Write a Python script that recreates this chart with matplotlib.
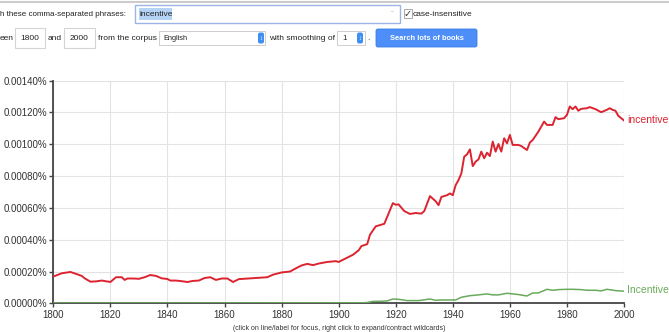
import matplotlib
matplotlib.use("Agg")
import matplotlib.pyplot as plt
from matplotlib.patches import Rectangle, FancyBboxPatch
from matplotlib.ticker import FuncFormatter

plt.rcParams['font.family'] = ['Liberation Sans', 'DejaVu Sans']

# ngram frequencies, in percent
red_years = [1800, 1803, 1806, 1808, 1810, 1811, 1813, 1815, 1817, 1820,
             1822, 1824, 1825, 1826, 1828, 1830, 1832, 1834, 1836, 1838,
             1840, 1841, 1843, 1845, 1847, 1849, 1851, 1853, 1855, 1857,
             1859, 1861, 1863, 1865, 1870, 1875, 1877, 1880, 1883, 1885,
             1887, 1889, 1891, 1893, 1896, 1899, 1900, 1902, 1905, 1907,
             1908, 1910, 1911, 1913, 1916, 1919, 1920, 1921, 1923, 1925,
             1927, 1929, 1930, 1932, 1934, 1935, 1936, 1938, 1939, 1940,
             1941, 1942, 1943, 1944, 1945, 1946, 1947, 1948, 1949, 1950,
             1951, 1952, 1953, 1954, 1955, 1956, 1957, 1958, 1959, 1960,
             1961, 1963, 1964, 1966, 1967, 1968, 1970, 1972, 1973, 1975,
             1976, 1977, 1979, 1980, 1981, 1982, 1983, 1984, 1985, 1987,
             1988, 1990, 1992, 1994, 1995, 1996, 1997, 1998, 2000]
red_vals = [0.000168, 0.000189, 0.000197, 0.000185, 0.000172, 0.000157, 0.000136, 0.000138, 0.000143, 0.000134,
            0.000164, 0.000164, 0.000147, 0.000156, 0.000156, 0.000154, 0.000164, 0.000178, 0.000172, 0.000157,
            0.000153, 0.000143, 0.000143, 0.000139, 0.000134, 0.000141, 0.000143, 0.000159, 0.000164, 0.000147,
            0.000156, 0.000156, 0.000134, 0.000152, 0.000158, 0.000164, 0.000180, 0.000194, 0.000200, 0.000220,
            0.000238, 0.000248, 0.000240, 0.000250, 0.000260, 0.000265, 0.000260, 0.000278, 0.000305, 0.000333,
            0.000360, 0.000372, 0.000432, 0.000484, 0.000500, 0.000630, 0.000620, 0.000622, 0.000580, 0.000562,
            0.000568, 0.000564, 0.000580, 0.000674, 0.000642, 0.000617, 0.000669, 0.000680, 0.000691, 0.000680,
            0.000743, 0.000775, 0.000817, 0.000922, 0.000937, 0.000968, 0.000863, 0.000891, 0.000905, 0.000954,
            0.000912, 0.000947, 0.000926, 0.001017, 0.000954, 0.001002, 0.000954, 0.001038, 0.001006, 0.001059,
            0.000996, 0.000996, 0.000989, 0.000964, 0.001011, 0.001027, 0.001080, 0.001143, 0.001122, 0.001122,
            0.001171, 0.001158, 0.001164, 0.001185, 0.001238, 0.001221, 0.001238, 0.001211, 0.001223, 0.001227,
            0.001234, 0.001221, 0.001202, 0.001217, 0.001227, 0.001217, 0.001211, 0.001179, 0.001150]

green_years = [1800, 1850, 1900, 1908, 1910, 1912, 1915, 1917, 1919, 1921,
               1924, 1928, 1932, 1934, 1936, 1938, 1941, 1943, 1946, 1949,
               1952, 1954, 1956, 1959, 1961, 1963, 1966, 1968, 1970, 1973,
               1975, 1977, 1980, 1982, 1985, 1987, 1990, 1992, 1994, 1997, 2000]
green_vals = [0.000002, 0.000002, 0.000003, 0.000003, 0.000005, 0.000012, 0.000013, 0.000015, 0.000027, 0.000025,
              0.000017, 0.000017, 0.000027, 0.000019, 0.000021, 0.000021, 0.000021, 0.000038, 0.000048, 0.000053,
              0.000059, 0.000053, 0.000053, 0.000063, 0.000059, 0.000055, 0.000046, 0.000065, 0.000065, 0.000088,
              0.000082, 0.000086, 0.000088, 0.000088, 0.000086, 0.000082, 0.000082, 0.000078, 0.000088, 0.000080, 0.000076]

red_label = "incentive"
green_label = "Incentive"
RED = "#dc2430"
GREEN = "#6aaa5c"
UI = 6.0  # font size of the form text

fig = plt.figure(figsize=(6.69, 3.32), dpi=100)

# --- chart ---
ax = fig.add_axes([53.3 / 669, 1 - 303.3 / 332, (624 - 53.3) / 669, (303.3 - 80.7) / 332])
ax.plot(green_years, green_vals, color=GREEN, lw=1.1, zorder=3)
ax.plot(red_years, red_vals, color=RED, lw=1.4, zorder=4)
ax.set_xlim(1800, 2000)
ax.set_ylim(0, 0.0014)
ax.set_xticks(range(1800, 2001, 20))
ax.set_yticks([i * 0.0002 for i in range(8)])
ax.yaxis.set_major_formatter(FuncFormatter(lambda v, p: "%.5f%%" % v))
ax.grid(True, color="#e3e3e3", lw=0.8)
ax.set_axisbelow(True)
for s in ["top", "right"]:
    ax.spines[s].set_visible(False)
for s in ["left", "bottom"]:
    ax.spines[s].set_color("#444444")
    ax.spines[s].set_linewidth(1.3)
ax.tick_params(axis="both", colors="#444444", labelcolor="#333333", labelsize=7,
               length=3, width=1, pad=2)
ax.tick_params(axis="y", pad=1)
ax.text(2001, red_vals[-1], red_label, color=RED, fontsize=7.5, va="center", ha="left", clip_on=False)
ax.text(2001, green_vals[-1] + 0.00001, green_label, color=GREEN, fontsize=7.5, va="center", ha="left", clip_on=False)

# --- page chrome, pixel coordinates ---
ov = fig.add_axes([0, 0, 1, 1], zorder=-1)
ov.set_xlim(0, 669)
ov.set_ylim(332, 0)
ov.axis("off")

ov.plot([0, 669], [1.5, 1.5], color="#cccccc", lw=1.5)
ov.text(0, 14, "h these comma-separated phrases:", fontsize=5.8, va="center", color="#222222")
ov.add_patch(Rectangle((135, 5), 265, 18, fc="white", ec="#9ab4e6", lw=1.0))
ov.add_patch(Rectangle((139, 8), 33, 12, fc="#b5d3f5", ec="none"))
ov.text(140, 14, "incentive", fontsize=UI, va="center", color="#222222")
ov.text(392, 15, "\u02c7", fontsize=6, va="center", ha="center", color="#aaaaaa")
ov.add_patch(Rectangle((404, 9), 8, 9, fc="white", ec="#aaaaaa", lw=0.7))
ov.text(403.5, 13.5, "\u2713", fontsize=7, va="center", color="#333333")
ov.text(413, 14, "case-insensitive", fontsize=UI, va="center", color="#222222")

ov.text(0, 38, "een", fontsize=UI, va="center", color="#222222")
ov.add_patch(Rectangle((15, 28), 30, 20, fc="white", ec="#d4d4d4", lw=0.8))
ov.text(30, 38, "1800", fontsize=UI, va="center", ha="center", color="#222222")
ov.text(48, 38, "and", fontsize=UI, va="center", color="#222222")
ov.add_patch(Rectangle((64, 28), 31, 20, fc="white", ec="#d4d4d4", lw=0.8))
ov.text(79.5, 38, "2000", fontsize=UI, va="center", ha="center", color="#222222")
ov.text(98, 38, "from the corpus", fontsize=UI, va="center", color="#222222")
ov.add_patch(Rectangle((159, 31), 106, 14, fc="white", ec="#cfcfcf", lw=0.7))
ov.text(163, 38, "English", fontsize=5.3, va="center", color="#222222")
ov.add_patch(FancyBboxPatch((258, 32.5), 6, 11, boxstyle="round,pad=0,rounding_size=2", fc="#3f8ef5", ec="none"))
ov.text(261, 38, "\u2195", fontsize=4.5, va="center", ha="center", color="white")
ov.text(269, 38, "with smoothing of", fontsize=UI, va="center", color="#222222")
ov.add_patch(Rectangle((337, 31), 28, 14, fc="white", ec="#cfcfcf", lw=0.7))
ov.text(342, 38, "1", fontsize=5.6, va="center", color="#222222")
ov.add_patch(FancyBboxPatch((357, 32.5), 6, 11, boxstyle="round,pad=0,rounding_size=2", fc="#3f8ef5", ec="none"))
ov.text(360, 38, "\u2195", fontsize=4.5, va="center", ha="center", color="white")
ov.text(367, 38, ".", fontsize=UI, va="center", color="#222222")
ov.add_patch(FancyBboxPatch((376, 29), 101, 18, boxstyle="round,pad=0,rounding_size=2", fc="#4d8ef8", ec="#3b7ee8", lw=0.6))
ov.text(426.5, 38, "Search lots of books", fontsize=5.4, va="center", ha="center", color="white", weight="bold")

ov.text(339, 328, "(click on line/label for focus, right click to expand/contract wildcards)",
        fontsize=5.0, va="center", ha="center", color="#333333")

fig.savefig("out.png", dpi=100)
